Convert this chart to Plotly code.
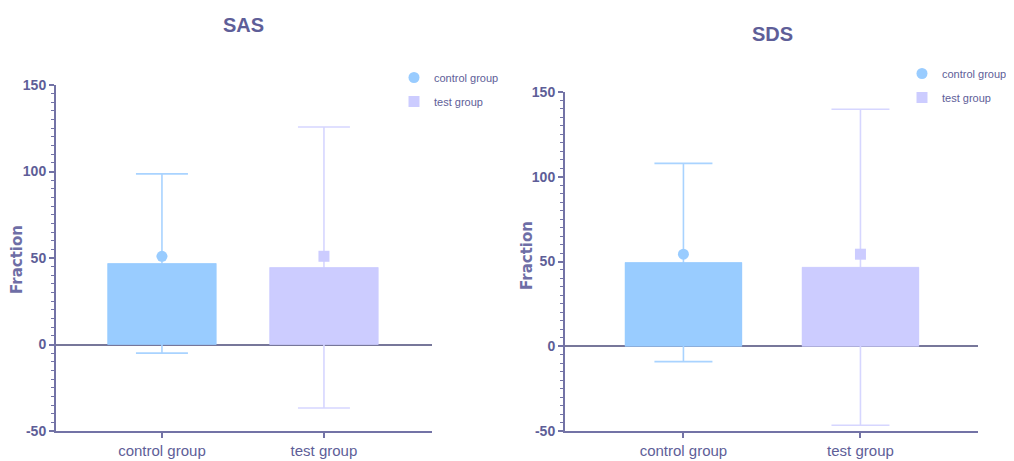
import plotly.graph_objects as go

categories = ["control group", "test group"]
# SAS
sas_bar = [46.8, 44.5]
sas_err = [51.8, 81.2]
sas_mean = [51.0, 51.0]
# SDS
sds_bar = [49.4, 46.6]
sds_err = [58.5, 93.2]
sds_mean = [54.3, 54.3]

titles = ["SAS", "SDS"]
y_title = "Fraction"
y_ticks = [-50, 0, 50, 100, 150]
y_ticktext = ["-50", "0", "50", "100", "150"]

bar_colors = ["#99CCFF", "#CCCCFF"]
err_colors = ["#A9D3FF", "#D6D6FF"]
symbols = ["circle", "square"]

TXT = "#5E5E98"
AX = "#7373A6"
SANS = "Liberation Sans, Arial, sans-serif"

fig = go.Figure()

panels = [
    dict(bar=sas_bar, err=sas_err, mean=sas_mean, xa="x", ya="y", legend="legend",
         capw=26, width=0.67),
    dict(bar=sds_bar, err=sds_err, mean=sds_mean, xa="x2", ya="y2", legend="legend2",
         capw=29, width=0.66),
]

for p in panels:
    # error bars (drawn first, so the bars cover them)
    for i, cat in enumerate(categories):
        fig.add_trace(go.Bar(
            x=[cat], y=[p["bar"][i]], width=p["width"],
            marker=dict(color=bar_colors[i], line=dict(width=0)),
            error_y=dict(type="data", array=[p["err"][i]], symmetric=True,
                         color=err_colors[i], thickness=1.6, width=p["capw"]),
            xaxis=p["xa"], yaxis=p["ya"], showlegend=False, hoverinfo="skip",
        ))
    # bars on top
    for i, cat in enumerate(categories):
        fig.add_trace(go.Bar(
            x=[cat], y=[p["bar"][i]], width=p["width"],
            marker=dict(color=bar_colors[i], line=dict(color=bar_colors[i], width=0.5)),
            xaxis=p["xa"], yaxis=p["ya"], showlegend=False, hoverinfo="skip",
        ))
    for i, cat in enumerate(categories):
        fig.add_trace(go.Scatter(
            x=[cat], y=[p["mean"][i]], mode="markers", name=cat,
            legendgroup=p["legend"] + str(i),
            marker=dict(symbol=symbols[i], size=11, color=bar_colors[i]),
            xaxis=p["xa"], yaxis=p["ya"], legend=p["legend"],
        ))

# page body margin offset (8px) compensation
OFF = 8
W, H = 1014 - OFF, 461 - OFF
def xd(a, b):
    return [(a - OFF) / W, (b - OFF) / W]
def yd(top, bottom):
    return [1 - (bottom - OFF) / H, 1 - (top - OFF) / H]
def px(x):
    return (x - OFF) / W
def py(y):
    return 1 - (y - OFF) / H

xcommon = dict(type="category", showline=True, linecolor=AX, linewidth=2,
               ticks="outside", ticklen=5, tickwidth=1.5, tickcolor=AX,
               showgrid=False, zeroline=False, automargin=False,
               tickfont=dict(family=SANS, size=15, color=TXT))
ycommon = dict(range=[-50, 150], tickvals=y_ticks, ticktext=y_ticktext,
               showline=True, linecolor=AX,
               linewidth=2, ticks="outside", ticklen=5, tickwidth=1.5, tickcolor=AX,
               minor=dict(dtick=5, ticks="outside", ticklen=3, tickcolor=AX, tickwidth=1),
               showgrid=False, zeroline=True, zerolinecolor="#77779A", zerolinewidth=2,
               automargin=False,
               tickfont=dict(family=SANS, size=14, color=TXT, weight="bold"))

legend_common = dict(xanchor="left", yanchor="top", bgcolor="rgba(0,0,0,0)",
                     traceorder="grouped", tracegroupgap=5, itemsizing="trace",
                     font=dict(family=SANS, size=11, color=TXT))

title_font = dict(family=SANS, size=20, color=TXT, weight="bold")
ytitle_font = dict(family="DejaVu Sans, Arial, sans-serif", size=15,
                   color="#6E6EA6", weight="bold")

fig.update_layout(
    width=W, height=H, margin=dict(l=0, r=0, t=0, b=0, autoexpand=False),
    plot_bgcolor="white", paper_bgcolor="white", barmode="overlay",
    xaxis=dict(domain=xd(56, 432), range=[-0.654, 1.667], anchor="y", **xcommon),
    yaxis=dict(domain=yd(85, 431), anchor="x", **ycommon),
    xaxis2=dict(domain=xd(565, 978), range=[-0.669, 1.664], anchor="y2", **xcommon),
    yaxis2=dict(domain=yd(92, 431), anchor="x2", **ycommon),
    legend=dict(x=px(394), y=py(63), **legend_common),
    legend2=dict(x=px(902), y=py(59), **legend_common),
    annotations=[
        dict(text=titles[0], x=px(243), y=py(25), xref="paper", yref="paper",
             xanchor="center", yanchor="middle", showarrow=False, font=title_font),
        dict(text=titles[1], x=px(772), y=py(34), xref="paper", yref="paper",
             xanchor="center", yanchor="middle", showarrow=False, font=title_font),
        dict(text=y_title, x=px(17), y=py(260), xref="paper", yref="paper",
             xanchor="center", yanchor="middle", textangle=-90, showarrow=False,
             font=ytitle_font),
        dict(text=y_title, x=px(527), y=py(256), xref="paper", yref="paper",
             xanchor="center", yanchor="middle", textangle=-90, showarrow=False,
             font=ytitle_font),
    ],
)

fig.write_html("out.html")
